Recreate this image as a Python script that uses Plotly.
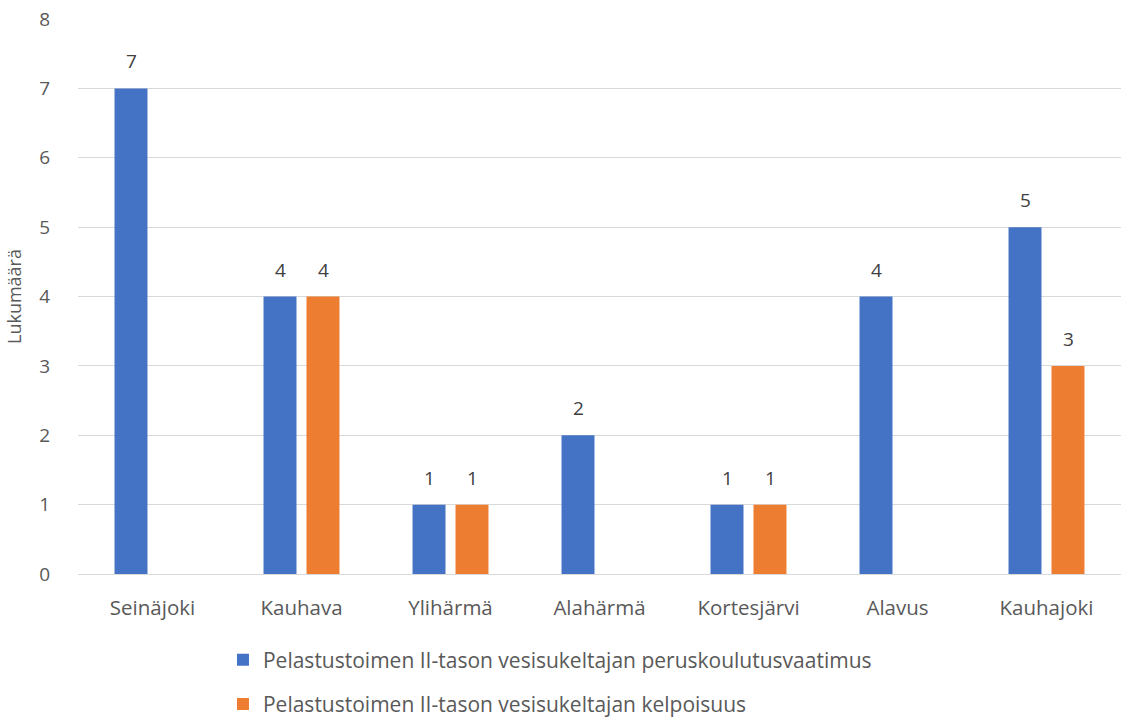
import plotly.graph_objects as go

categories = ["Seinäjoki", "Kauhava", "Ylihärmä", "Alahärmä", "Kortesjärvi", "Alavus", "Kauhajoki"]
series_names = [
    "Pelastustoimen II-tason vesisukeltajan peruskoulutusvaatimus",
    "Pelastustoimen II-tason vesisukeltajan kelpoisuus",
]
peruskoulutus = [7, 4, 1, 2, 1, 4, 5]
kelpoisuus = [None, 4, 1, None, 1, None, 3]
y_ticks = [0, 1, 2, 3, 4, 5, 6, 7, 8]

FONT = "Open Sans, Noto Sans, DejaVu Sans, sans-serif"
TEXT_COLOR = "#595959"
LABEL_COLOR = "#404040"
GRID_COLOR = "#D9D9D9"
SLOT_PX = 43  # horizontal distance between the two bars of a group

fig = go.Figure()
series = [
    (series_names[0], peruskoulutus, "#4472C4", "a", -SLOT_PX / 2),
    (series_names[1], kelpoisuus, "#ED7D31", "b", SLOT_PX / 2),
]
for name, values, color, group, shift in series:
    fig.add_trace(go.Bar(
        x=categories,
        y=values,
        name=name,
        legendgroup=group,
        marker=dict(color=color, line=dict(width=0)),
    ))
    # value labels above each bar
    for cat, v in zip(categories, values):
        if v is None:
            continue
        fig.add_annotation(
            x=cat, y=v, xref="x", yref="y",
            text=str(v), showarrow=False,
            xshift=shift, yshift=27, yanchor="middle",
            font=dict(family=FONT, size=19, color=LABEL_COLOR),
        )

fig.update_layout(
    width=1123,
    height=720,
    margin=dict(l=78, r=2, t=19, b=146, autoexpand=False),
    paper_bgcolor="white",
    plot_bgcolor="white",
    barmode="group",
    bargap=0.423,
    bargroupgap=0.233,
    font=dict(family=FONT, size=19, color=TEXT_COLOR),
    xaxis=dict(
        showgrid=False,
        showline=False,
        ticks="",
        ticklabelstandoff=19,
        tickfont=dict(size=20.5, color=TEXT_COLOR),
    ),
    yaxis=dict(
        range=[0, 8],
        tickvals=y_ticks,
        showgrid=True,
        gridcolor=GRID_COLOR,
        gridwidth=1,
        zeroline=True,
        zerolinecolor=GRID_COLOR,
        zerolinewidth=1,
        showline=False,
        ticks="",
        ticklabelstandoff=27,
        tickfont=dict(size=19, color=TEXT_COLOR),
        title=dict(text="Lukumäärä", font=dict(size=18, color=TEXT_COLOR), standoff=12),
    ),
    legend=dict(
        orientation="v",
        x=0.139,
        xanchor="left",
        y=-0.118,
        yanchor="top",
        traceorder="grouped",
        tracegroupgap=14,
        font=dict(size=21, color=TEXT_COLOR),
        itemwidth=30,
        bgcolor="rgba(0,0,0,0)",
    ),
)

fig.write_html("out.html")
